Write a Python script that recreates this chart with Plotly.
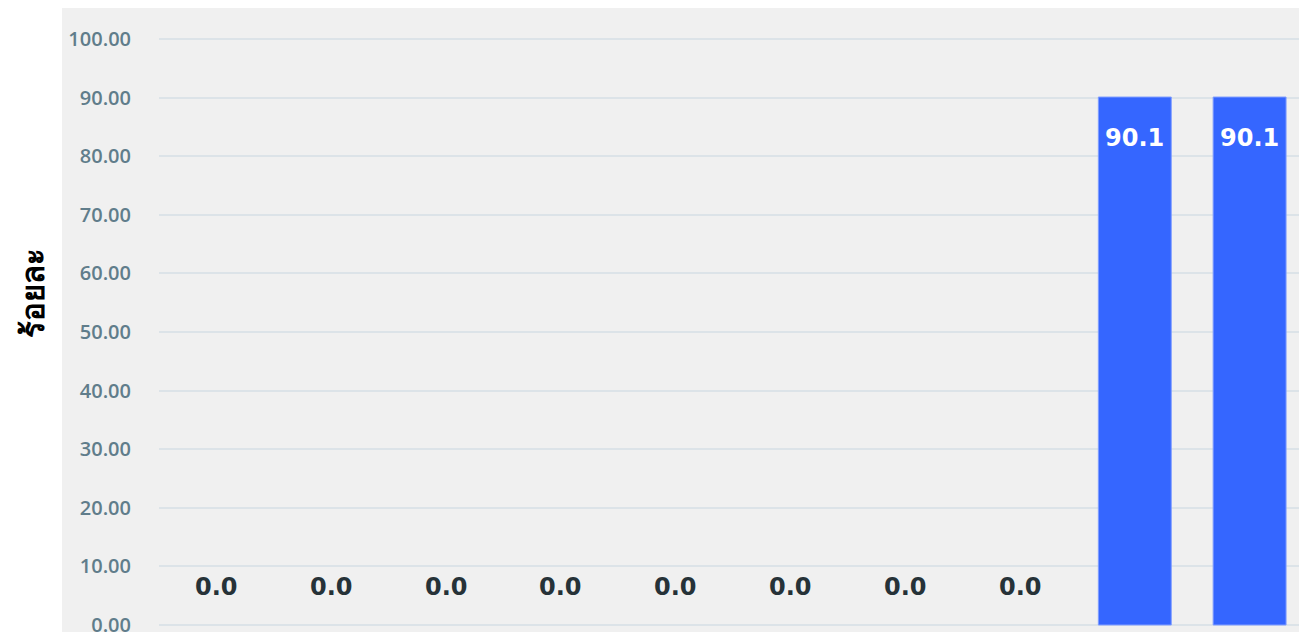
import plotly.graph_objects as go

categories = ["C1", "C2", "C3", "C4", "C5", "C6", "C7", "C8", "C9", "C10"]
values = [0.0, 0.0, 0.0, 0.0, 0.0, 0.0, 0.0, 0.0, 90.1, 90.1]
y_ticks = [0, 10, 20, 30, 40, 50, 60, 70, 80, 90, 100]
y_title = "ร้อยละ"

BG = "#f0f0f0"
TICK_FONT = "Open Sans, Noto Sans, sans-serif"
LABEL_FONT = "DejaVu Sans, sans-serif"

fig = go.Figure()
fig.add_trace(go.Bar(
    x=categories, y=values,
    marker=dict(color="#3566ff",
                line=dict(color="#7f9cff", width=[1 if v > 0 else 0 for v in values])),
    hoverinfo="skip",
))

annotations = []
for c, v in zip(categories, values):
    if v > 0:
        annotations.append(dict(x=c, y=v, xref="x", yref="y", text=f"{v:.1f}",
                                showarrow=False, yshift=-41,
                                font=dict(family=LABEL_FONT, size=24, color="white", weight="bold")))
    else:
        annotations.append(dict(x=c, y=v, xref="x", yref="y", text=f"{v:.1f}",
                                showarrow=False, yshift=38,
                                font=dict(family=LABEL_FONT, size=24, color="#263238", weight="bold")))

# y-axis title placed as a rotated annotation
annotations.append(dict(text=y_title, textangle=-90, xref="paper", yref="paper",
                        x=-0.1106, y=0.565, showarrow=False,
                        xanchor="center", yanchor="middle",
                        font=dict(family="Noto Sans, sans-serif", size=31, color="black", weight="bold")))

# page body has an 8px margin, so the figure is shifted by 8px;
# the bottom strip below the window edge is simply cut off, as in the reference
fig.update_layout(
    width=1299, height=638,
    margin=dict(l=151, r=0, t=24, b=14),
    paper_bgcolor="white",
    plot_bgcolor=BG,
    bargap=0.365,
    showlegend=False,
    annotations=annotations,
    shapes=[dict(type="rect", xref="paper", yref="paper",
                 x0=-0.0845, x1=1.01, y0=-0.05, y1=1.0433,
                 fillcolor=BG, line=dict(width=0), layer="below")],
    xaxis=dict(showticklabels=False, showgrid=False, zeroline=False, showline=False, ticks=""),
    yaxis=dict(range=[-1.2, 101.2], tickvals=y_ticks, tickformat=".2f",
               showgrid=True, gridcolor="#dce3e8", gridwidth=2,
               zeroline=False, showline=False, ticks="outside", ticklen=23,
               tickcolor="rgba(0,0,0,0)",
               tickfont=dict(family=TICK_FONT, size=20, color="#607d8b", weight=600)),
)

fig.write_html("out.html")
